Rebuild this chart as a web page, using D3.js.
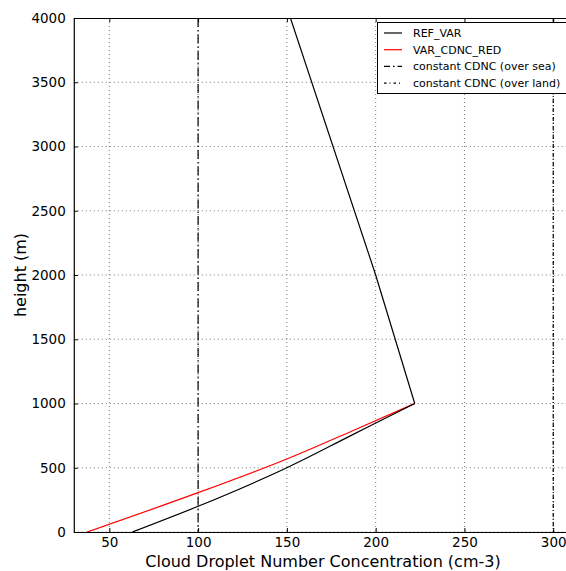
<!DOCTYPE html>
<html>
<head>
<meta charset="utf-8">
<script src="https://cdn.jsdelivr.net/npm/d3@7"></script>
<style>
  body { margin: 0; background: #fff; }
  text { font-family: "DejaVu Sans", sans-serif; }
</style>
</head>
<body>
<svg id="chart" width="566" height="571"></svg>
<script>
// profiles: height (m) vs CDNC (cm-3)
var heights = [0, 200, 500, 750, 1000, 2000, 4000];
var refVar = [63, 100, 150, 186, 222, 200, 152];
var redHeights = [0, 306, 568, 800, 1000];
var varCdncRed = [37.5, 100, 150, 189, 222];
var seaCdnc = 100, landCdnc = 300;
var xTicks = [50, 100, 150, 200, 250, 300];
var yTicks = [0, 500, 1000, 1500, 2000, 2500, 3000, 3500, 4000];
var legendItems = [
  {label: 'REF_VAR', color: '#000', dash: null},
  {label: 'VAR_CDNC_RED', color: 'red', dash: null},
  {label: 'constant CDNC (over sea)', color: '#000', dash: '6,3,1.5,3'},
  {label: 'constant CDNC (over land)', color: '#000', dash: '2.5,3,1,3'}
];

var svg = d3.select('#chart');
var pLeft = 73.8, pTop = 18, pBottom = 532, pRight = 571;

var x = d3.scaleLinear().domain([30, 310]).range([pLeft, pRight]);
var y = d3.scaleLinear().domain([0, 4000]).range([pBottom, pTop]);

svg.append('clipPath').attr('id', 'clip').append('rect')
  .attr('x', pLeft).attr('y', pTop).attr('width', pRight - pLeft).attr('height', pBottom - pTop);

// grid
var grid = svg.append('g').attr('clip-path', 'url(#clip)');
grid.selectAll('.gx').data(xTicks).enter().append('line')
  .attr('x1', function(d){return x(d)}).attr('x2', function(d){return x(d)})
  .attr('y1', pTop).attr('y2', pBottom)
  .attr('stroke', '#555').attr('stroke-width', 0.8).attr('stroke-dasharray', '1,3');
grid.selectAll('.gy').data(yTicks).enter().append('line')
  .attr('x1', pLeft).attr('x2', pRight)
  .attr('y1', function(d){return y(d)}).attr('y2', function(d){return y(d)})
  .attr('stroke', '#555').attr('stroke-width', 0.8).attr('stroke-dasharray', '1,3');

var plot = svg.append('g').attr('clip-path', 'url(#clip)');

// constant CDNC lines
plot.append('line').attr('x1', x(seaCdnc)).attr('x2', x(seaCdnc)).attr('y1', pTop).attr('y2', pBottom)
  .attr('stroke', '#000').attr('stroke-width', 1.2).attr('stroke-dasharray', '9,3,1.5,3');
plot.append('line').attr('x1', x(landCdnc)).attr('x2', x(landCdnc)).attr('y1', pTop).attr('y2', pBottom)
  .attr('stroke', '#000').attr('stroke-width', 1.2).attr('stroke-dasharray', '4,2,1,2');

var line = d3.line().curve(d3.curveMonotoneY);

plot.append('path')
  .attr('d', line(redHeights.map(function(h, i){return [x(varCdncRed[i]), y(h)]})))
  .attr('fill', 'none').attr('stroke', 'red').attr('stroke-width', 1.2);

plot.append('path')
  .attr('d', line(heights.slice(0, 5).map(function(h, i){return [x(refVar[i]), y(h)]})))
  .attr('fill', 'none').attr('stroke', '#000').attr('stroke-width', 1.2);
plot.append('path')
  .attr('d', d3.line()(heights.slice(4).map(function(h, i){return [x(refVar[i + 4]), y(h)]})))
  .attr('fill', 'none').attr('stroke', '#000').attr('stroke-width', 1.2);

// axes
var xAxis = d3.axisBottom(x).tickValues(xTicks).tickSizeInner(-4).tickSizeOuter(0).tickPadding(5);
var yAxis = d3.axisLeft(y).tickValues(yTicks).tickFormat(d3.format('d')).tickSizeInner(-4).tickSizeOuter(0).tickPadding(8);
var xTop = d3.axisTop(x).tickValues(xTicks).tickSizeInner(-4).tickSizeOuter(0).tickFormat('');

var gx = svg.append('g').attr('transform', 'translate(0,' + pBottom + ')').call(xAxis);
var gy = svg.append('g').attr('transform', 'translate(' + pLeft + ',0)').call(yAxis);
var gt = svg.append('g').attr('transform', 'translate(0,' + pTop + ')').call(xTop);
[gx, gy, gt].forEach(function(g){
  g.select('.domain').attr('stroke', '#000').attr('stroke-width', 1.2);
  g.selectAll('.tick line').attr('stroke', '#000');
  g.selectAll('.tick text').attr('font-size', 13.5).attr('fill', '#000').attr('font-family', '"DejaVu Sans", sans-serif');
});

svg.append('text').attr('x', 323).attr('y', 567).attr('text-anchor', 'middle')
  .attr('font-size', 16).text('Cloud Droplet Number Concentration (cm-3)');
svg.append('text').attr('transform', 'translate(26,275) rotate(-90)').attr('text-anchor', 'middle')
  .attr('font-size', 16).text('height (m)');

// legend
var lg = svg.append('g');
lg.append('rect').attr('x', 377.5).attr('y', 22.5).attr('width', 200).attr('height', 71)
  .attr('fill', '#fff').attr('stroke', '#000').attr('stroke-width', 1);
legendItems.forEach(function(d, i){
  var ly = 33 + i * 16.7;
  lg.append('line').attr('x1', 384).attr('x2', 402).attr('y1', ly).attr('y2', ly)
    .attr('stroke', d.color).attr('stroke-width', 1.2).attr('stroke-dasharray', d.dash);
  lg.append('text').attr('x', 413).attr('y', ly + 4).attr('font-size', 11).text(d.label);
});
</script>
</body>
</html>
